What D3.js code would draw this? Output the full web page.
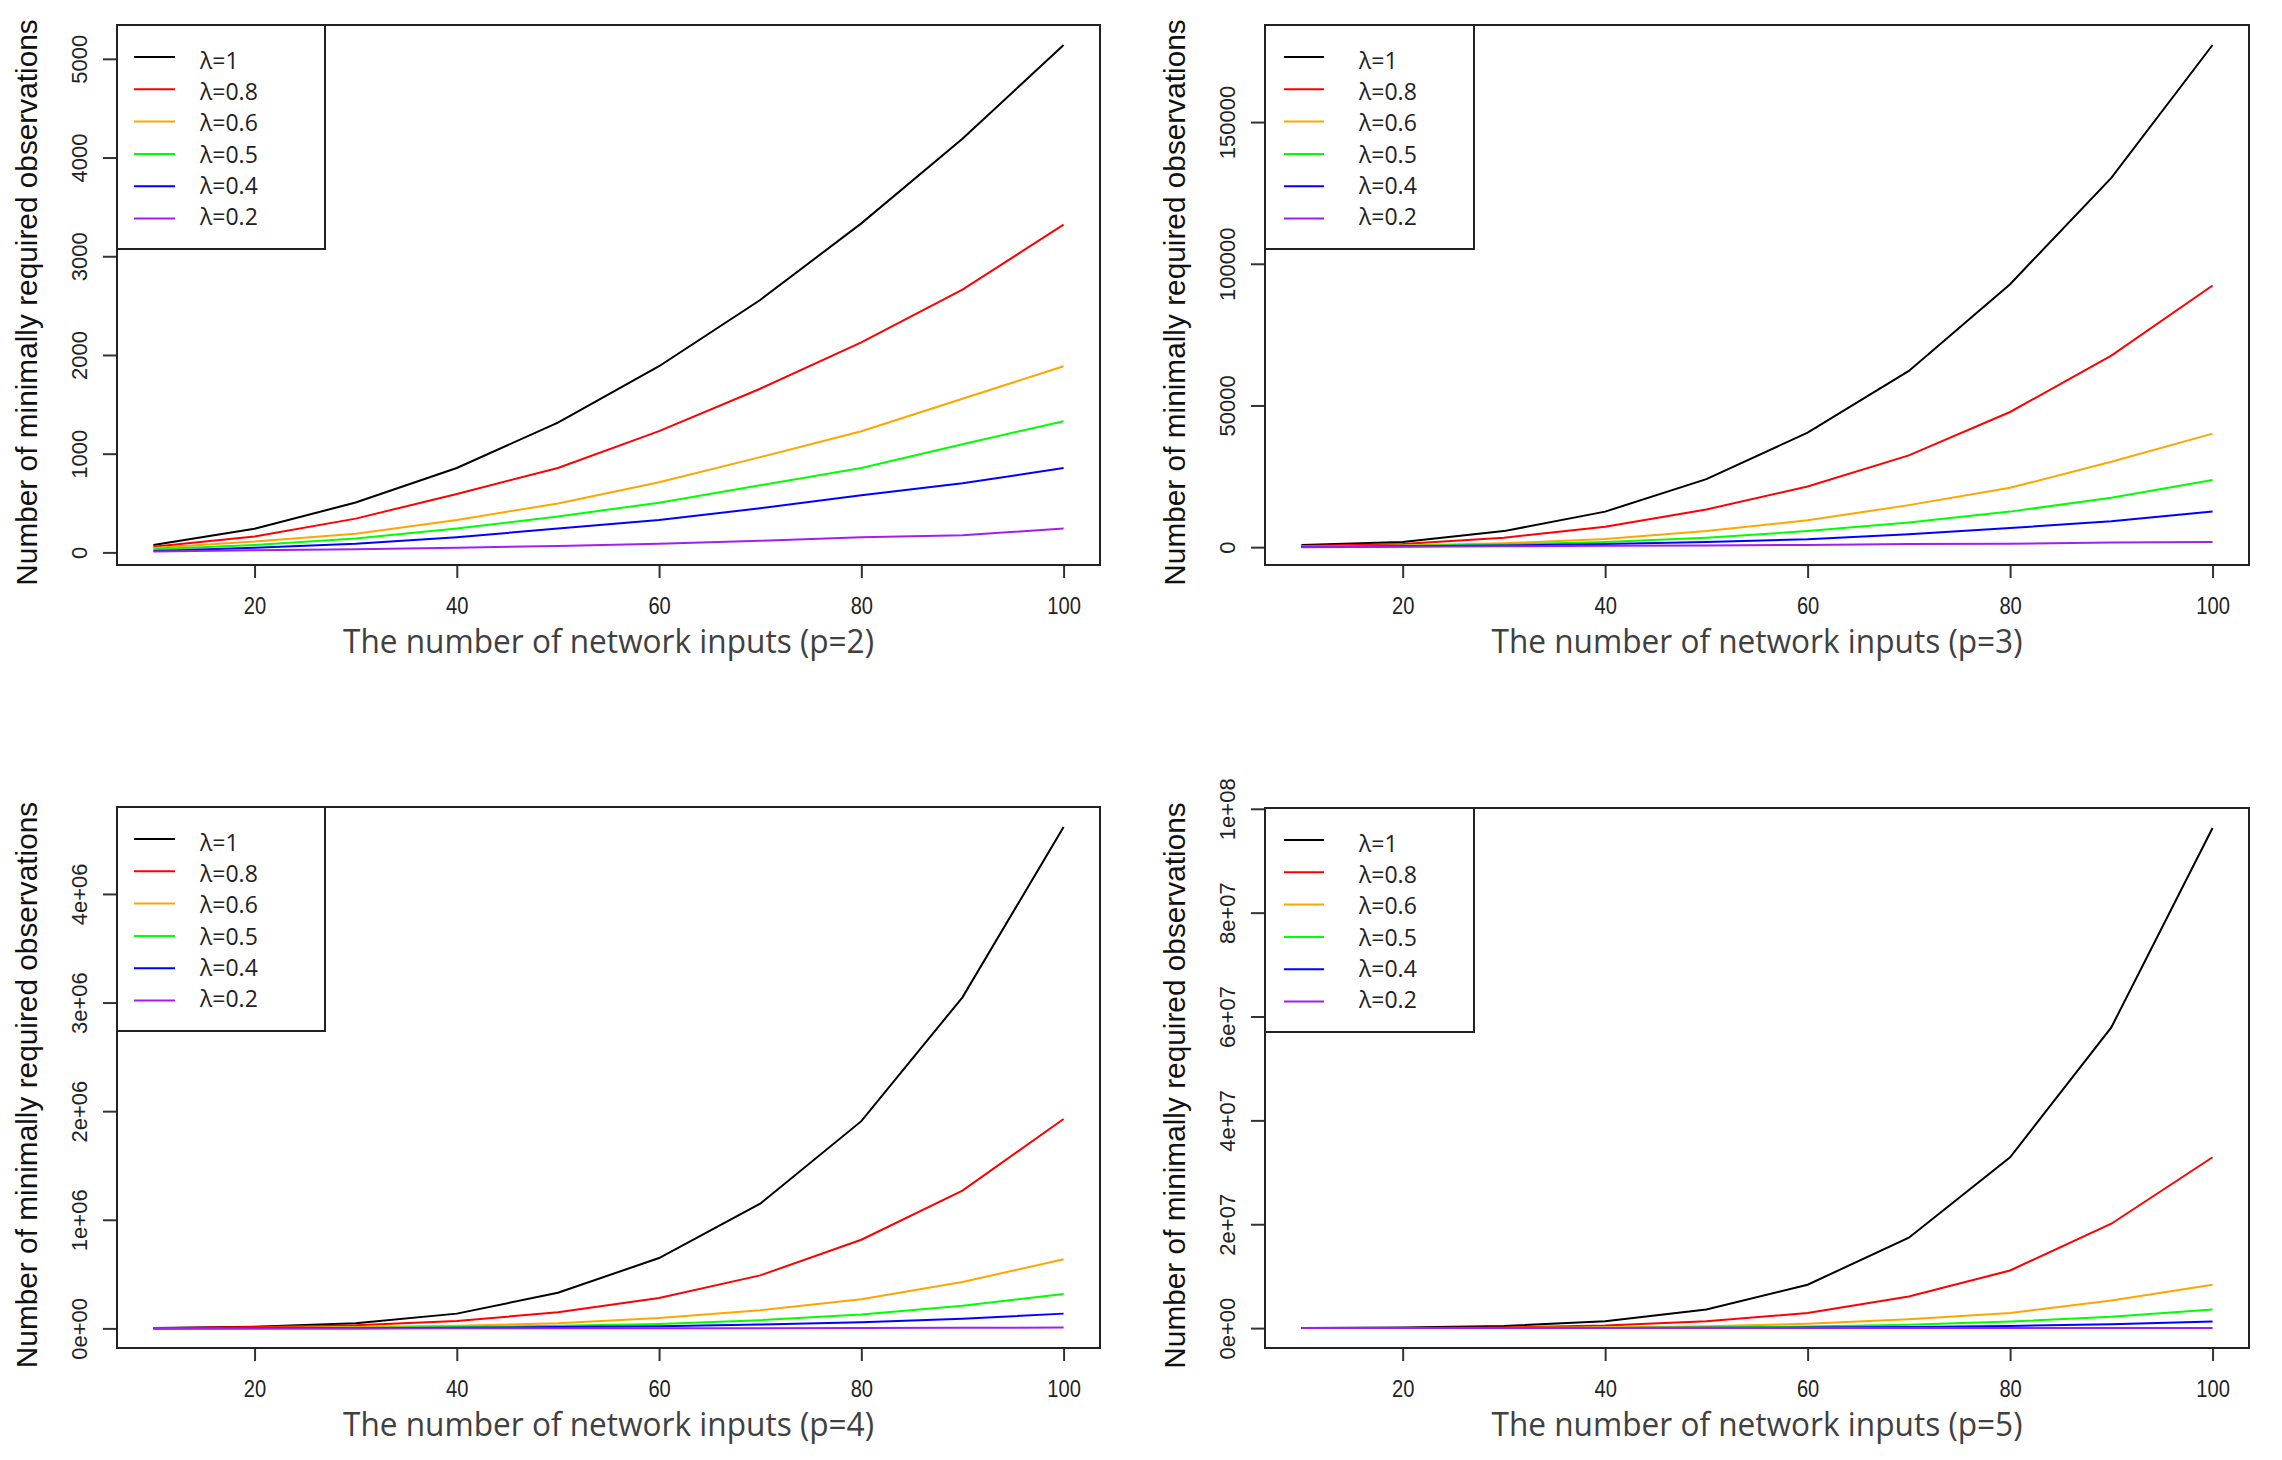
<!DOCTYPE html>
<html>
<head>
<meta charset="utf-8">
<script src="https://cdn.jsdelivr.net/npm/d3@7"></script>
<style>
  body { margin: 0; background: #fff; }
  svg { display: block; }
</style>
</head>
<body>
<script>
'use strict';

// x values shared by every panel
const xValues = [10, 20, 30, 40, 50, 60, 70, 80, 90, 100];
const xTicks = [20, 40, 60, 80, 100];

const lambdaLabels = ["λ=1", "λ=0.8", "λ=0.6", "λ=0.5", "λ=0.4", "λ=0.2"];
const lambdaColors = ["#000000", "#ff0000", "#ffa500", "#00ff00", "#0000ff", "#a020f0"];

// one row per lambda
const valuesP2 = [
  [75, 240, 505, 855, 1315, 1886, 2557, 3333, 4190, 5140],
  [57, 162, 342, 592, 855, 1228, 1658, 2127, 2662, 3320],
  [44, 110, 189, 329, 496, 710, 965, 1228, 1557, 1886],
  [31, 75, 140, 241, 364, 504, 680, 855, 1096, 1329],
  [13, 48, 88, 154, 241, 329, 447, 579, 700, 855],
  [9, 22, 31, 48, 66, 88, 118, 154, 175, 241]
];
const valuesP3 = [
  [760, 1830, 5660, 12540, 24000, 40400, 62200, 92800, 130300, 177200],
  [390, 1070, 3360, 7190, 13300, 21400, 32400, 47700, 67600, 92350],
  [170, 610, 1380, 2900, 5660, 9480, 14830, 20950, 30120, 40060],
  [100, 460, 920, 1830, 3360, 5660, 8720, 12540, 17430, 23700],
  [50, 300, 610, 1070, 1830, 2750, 4590, 6730, 9170, 12540],
  [10, 150, 300, 460, 610, 760, 1070, 1220, 1680, 1830]
];
const valuesP4 = [
  [4000, 16000, 48000, 136000, 328000, 648000, 1148000, 1908000, 3048000, 4616000],
  [2000, 12000, 28000, 68000, 148000, 280000, 488000, 816000, 1268000, 1928000],
  [1000, 4000, 12000, 24000, 48000, 96000, 168000, 268000, 428000, 636000],
  [500, 2000, 5000, 12000, 24000, 40000, 76000, 128000, 208000, 316000],
  [200, 800, 2000, 5000, 12000, 20000, 36000, 56000, 88000, 136000],
  [5, 30, 100, 250, 600, 1100, 1900, 3000, 5000, 8000]
];
const valuesP5 = [
  [20000, 100000, 420000, 1340000, 3600000, 8360000, 17400000, 32900000, 57900000, 96300000],
  [6000, 30000, 140000, 500000, 1300000, 2900000, 6100000, 11100000, 20100000, 32900000],
  [2000, 8000, 35000, 120000, 350000, 840000, 1700000, 2900000, 5300000, 8360000],
  [1000, 4000, 15000, 50000, 130000, 300000, 650000, 1250000, 2200000, 3600000],
  [300, 1000, 5000, 17000, 45000, 100000, 220000, 420000, 750000, 1250000],
  [10, 50, 200, 600, 1500, 3000, 6000, 11000, 20000, 40000]
];

const yTicksP2 = [0, 1000, 2000, 3000, 4000, 5000];
const yTickLabelsP2 = ["0", "1000", "2000", "3000", "4000", "5000"];
const yTicksP3 = [0, 50000, 100000, 150000];
const yTickLabelsP3 = ["0", "50000", "100000", "150000"];
const yTicksP4 = [0, 1e6, 2e6, 3e6, 4e6];
const yTickLabelsP4 = ["0e+00", "1e+06", "2e+06", "3e+06", "4e+06"];
const yTicksP5 = [0, 2e7, 4e7, 6e7, 8e7, 1e8];
const yTickLabelsP5 = ["0e+00", "2e+07", "4e+07", "6e+07", "8e+07", "1e+08"];

const xTitles = [
  "The number of network inputs (p=2)",
  "The number of network inputs (p=3)",
  "The number of network inputs (p=4)",
  "The number of network inputs (p=5)"
];
const yTitle = "Number of minimally required observations";

// panel boxes (layout only)
const panels = [
  {left: 117, top: 25, width: 983, height: 540, values: valuesP2, ticks: yTicksP2, labels: yTickLabelsP2, title: xTitles[0], legW: 208, lineX: [17, 58], textX: 83},
  {left: 1265, top: 25, width: 984, height: 540, values: valuesP3, ticks: yTicksP3, labels: yTickLabelsP3, title: xTitles[1], legW: 209, lineX: [19, 59], textX: 94},
  {left: 117, top: 807, width: 983, height: 541, values: valuesP4, ticks: yTicksP4, labels: yTickLabelsP4, title: xTitles[2], legW: 208, lineX: [17, 58], textX: 83},
  {left: 1265, top: 808, width: 984, height: 540, values: valuesP5, ticks: yTicksP5, labels: yTickLabelsP5, title: xTitles[3], legW: 209, lineX: [19, 59], textX: 94}
];

const svg = d3.select("body").append("svg")
  .attr("width", 2282)
  .attr("height", 1460);

// R style 4% padding around the data range
function padRange(ext) {
  let d = (ext[1] - ext[0]) * 0.04;
  return [ext[0] - d, ext[1] + d];
}

panels.forEach(drawPanel);

function drawPanel(p) {
  let g = svg.append("g").attr("transform", "translate(" + p.left + "," + p.top + ")");
  let w = p.width, h = p.height;

  let x = d3.scaleLinear().domain(padRange(d3.extent(xValues))).range([0, w]);
  let y = d3.scaleLinear().domain(padRange(d3.extent(p.values[0]))).range([h, 0]);

  // series lines, black first like plot() then lines()
  let line = d3.line()
    .x((d, i) => x(xValues[i]))
    .y((d) => y(d));

  p.values.forEach((series, k) => {
    g.append("path")
      .datum(series)
      .attr("d", line)
      .attr("fill", "none")
      .attr("stroke", lambdaColors[k])
      .attr("stroke-width", 2);
  });

  // x axis
  let xAxis = g.append("g")
    .attr("transform", "translate(0," + h + ")")
    .call(d3.axisBottom(x).tickValues(xTicks).tickSize(13));
  xAxis.select(".domain").remove();
  xAxis.selectAll("line").attr("stroke", "#333").attr("stroke-width", 2);
  xAxis.selectAll("text")
    .attr("y", 49)
    .attr("dy", null)
    .attr("fill", "#222")
    .style("font-family", "'Liberation Sans', Arial, sans-serif")
    .style("font-size", "23px")
    .attr("textLength", (d) => String(d).length * 11.2)
    .attr("lengthAdjust", "spacingAndGlyphs");

  // y axis with rotated labels
  let yAxis = g.append("g")
    .call(d3.axisLeft(y).tickValues(p.ticks).tickFormat((d, i) => p.labels[i]).tickSize(14));
  yAxis.select(".domain").remove();
  yAxis.selectAll("line").attr("stroke", "#333").attr("stroke-width", 2);
  yAxis.selectAll("text")
    .attr("transform", "rotate(-90)")
    .attr("x", 0)
    .attr("y", -30)
    .attr("dy", null)
    .attr("text-anchor", "middle")
    .attr("fill", "#222")
    .style("font-family", "'Liberation Sans', Arial, sans-serif")
    .style("font-size", "22px");

  // plot box
  g.append("rect")
    .attr("width", w)
    .attr("height", h)
    .attr("fill", "none")
    .attr("stroke", "#222")
    .attr("stroke-width", 2);

  // legend
  let leg = g.append("g");
  leg.append("rect")
    .attr("width", p.legW)
    .attr("height", 224)
    .attr("fill", "#fff")
    .attr("stroke", "#222")
    .attr("stroke-width", 2);
  lambdaLabels.forEach((lab, k) => {
    let ry = 32 + k * 32.3;
    leg.append("line")
      .attr("x1", p.lineX[0])
      .attr("x2", p.lineX[1])
      .attr("y1", ry)
      .attr("y2", ry)
      .attr("stroke", lambdaColors[k])
      .attr("stroke-width", 2);
    leg.append("text")
      .attr("x", p.textX)
      .attr("y", 44 + k * 31.2)
      .attr("fill", "#222")
      .style("font-family", "'Open Sans', sans-serif")
      .style("font-size", "23px")
      .text(lab);
  });

  // x axis title
  g.append("text")
    .attr("x", w / 2)
    .attr("y", h + 88)
    .attr("text-anchor", "middle")
    .attr("fill", "#404040")
    .attr("textLength", 531)
    .attr("lengthAdjust", "spacingAndGlyphs")
    .style("font-family", "'Open Sans', sans-serif")
    .style("font-size", "32px")
    .text(p.title);

  // y axis title
  g.append("text")
    .attr("transform", "translate(-80," + (h / 2 + 7.5) + ") rotate(-90)")
    .attr("text-anchor", "middle")
    .attr("fill", "#111")
    .style("font-family", "'Liberation Sans', Arial, sans-serif")
    .style("font-size", "29.8px")
    .text(yTitle);
}
</script>
</body>
</html>
